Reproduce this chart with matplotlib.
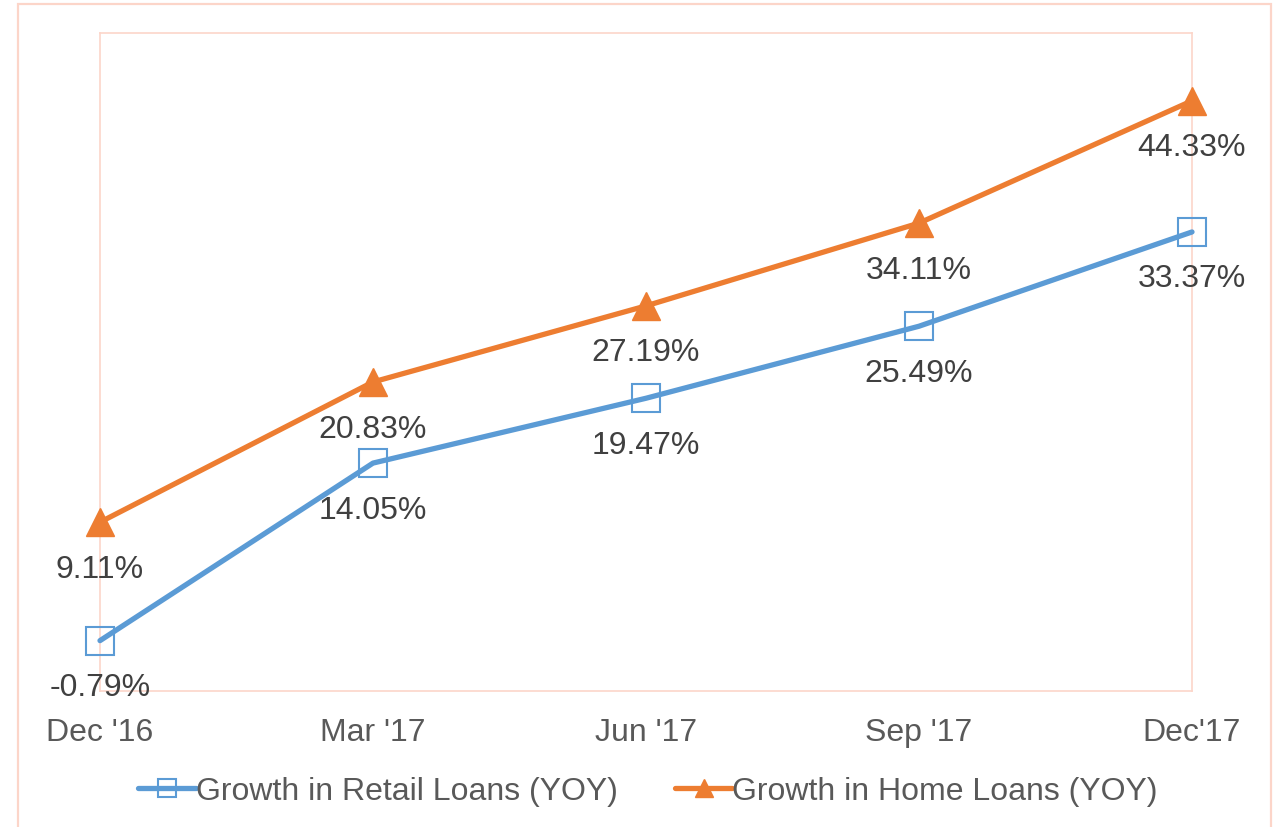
import matplotlib
matplotlib.use("Agg")
import matplotlib.pyplot as plt
from matplotlib.patches import Rectangle

categories = ["Dec '16", "Mar '17", "Jun '17", "Sep '17", "Dec'17"]
retail = [-0.79, 14.05, 19.47, 25.49, 33.37]
home = [9.11, 20.83, 27.19, 34.11, 44.33]
retail_name = "Growth in Retail Loans (YOY)"
home_name = "Growth in Home Loans (YOY)"

plt.rcParams['font.family'] = ['Liberation Sans', 'DejaVu Sans']

W, H = 1281, 828
fig = plt.figure(figsize=(W / 100, H / 100), dpi=100)
ax = fig.add_axes([100 / W, 1 - 692 / H, (1192 - 100) / W, (692 - 34) / H])

blue = '#5B9BD5'
orange = '#ED7D31'
border = '#FCD5C9'
FS = 23

x = list(range(len(categories)))
ax.plot(x, retail, color=blue, lw=3.8, marker='s', ms=20, mfc='none', mec=blue,
        mew=1.5, label=retail_name, solid_capstyle='round', clip_on=False, zorder=3)
ax.plot(x, home, color=orange, lw=3.8, marker='^', ms=20, mfc=orange, mec=orange,
        label=home_name, solid_capstyle='round', clip_on=False, zorder=3)

for xi, v in zip(x, retail):
    ax.annotate(f"{v:.2f}%", (xi, v), xytext=(0, -33.5), textcoords='offset points',
                ha='center', va='center', fontsize=FS, color='#404040')
for xi, v in zip(x, home):
    ax.annotate(f"{v:.2f}%", (xi, v), xytext=(0, -33.5), textcoords='offset points',
                ha='center', va='center', fontsize=FS, color='#404040')

ax.set_xlim(0, 4)
ax.set_ylim(-5, 50)
ax.set_yticks([])
ax.set_xticks(x)
ax.set_xticklabels(categories, fontsize=FS, color='#595959')
ax.tick_params(axis='x', length=0, pad=19)
for s in ax.spines.values():
    s.set_color(border)
    s.set_linewidth(1.2)

leg = fig.legend(loc='center', bbox_to_anchor=(648 / W, 1 - 792 / H), ncol=2,
                 frameon=False, fontsize=FS, handlelength=1.8, handletextpad=0.0,
                 columnspacing=1.8, labelcolor='#595959')
for h in leg.legend_handles:
    h.set_markersize(13)

fig.patches.append(Rectangle((18 / W, -0.01), (1271 - 18) / W, 1 - 5 / H + 0.01,
                             transform=fig.transFigure, fill=False, ec=border, lw=1.6))

fig.savefig('out.png', dpi=100, facecolor='white')
